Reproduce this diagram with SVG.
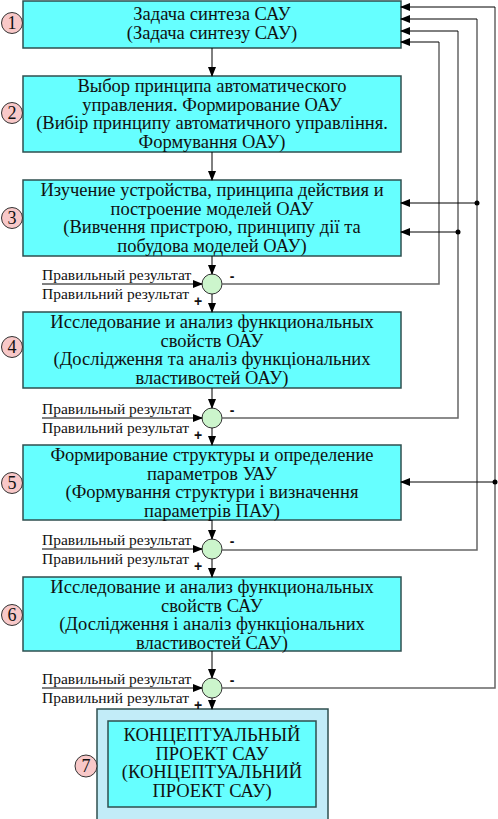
<svg xmlns="http://www.w3.org/2000/svg" width="498" height="819" viewBox="0 0 498 819">
<defs>
<marker id="ah" markerWidth="10" markerHeight="8" refX="9" refY="4" orient="auto" markerUnits="userSpaceOnUse">
<path d="M0,0 L10,4 L0,8 Z" fill="#000"/>
</marker>
<style>
.box{fill:#66ffff;stroke:#2f4f4f;stroke-width:1.5}
.t{font-family:'Liberation Serif','DejaVu Serif',serif;font-size:18.5px;fill:#111;text-anchor:middle}
.lbl{font-family:'Liberation Serif','DejaVu Serif',serif;font-size:15.5px;fill:#111}
.num{fill:#f8c8c8;stroke:#333;stroke-width:1}
.nt{font-family:'Liberation Serif','DejaVu Serif',serif;font-size:18px;fill:#111;text-anchor:middle}
.sum{fill:#ccf5cc;stroke:#333;stroke-width:1}
.ln{fill:none;stroke:#000;stroke-width:1}
.fb{fill:none;stroke:#666;stroke-width:1.5}
.sg{font-family:'Liberation Sans',Arial,sans-serif;font-size:14px;font-weight:bold;fill:#111;text-anchor:middle}
</style>
</defs>

<g id="node1">
<rect class="box" x="23" y="1" width="378" height="47"/>
<text class="t" x="212" y="20">Задача синтеза САУ</text>
<text class="t" x="212" y="39">(Задача синтезу САУ)</text>
<circle class="num" cx="12" cy="23" r="10.5"/><text class="nt" x="12" y="29">1</text>
</g>

<g id="node2">
<rect class="box" x="23" y="76" width="378" height="76"/>
<text class="t" x="212" y="92">Выбор принципа автоматического</text>
<text class="t" x="212" y="110.5">управления. Формирование ОАУ</text>
<text class="t" x="212" y="129">(Вибір принципу автоматичного управління.</text>
<text class="t" x="212" y="147.5">Формування ОАУ)</text>
<circle class="num" cx="12" cy="113" r="10.5"/><text class="nt" x="12" y="119">2</text>
</g>

<g id="node3">
<rect class="box" x="23" y="180" width="378" height="76"/>
<text class="t" x="212" y="196">Изучение устройства, принципа действия и</text>
<text class="t" x="212" y="214.5">построение моделей ОАУ</text>
<text class="t" x="212" y="233">(Вивчення пристрою, принципу дії та</text>
<text class="t" x="212" y="251.5">побудова моделей ОАУ)</text>
<circle class="num" cx="12" cy="218" r="10.5"/><text class="nt" x="12" y="224">3</text>
</g>

<g id="node4">
<rect class="box" x="23" y="312" width="378" height="76"/>
<text class="t" x="212" y="328">Исследование и анализ функциональных</text>
<text class="t" x="212" y="346.5">свойств ОАУ</text>
<text class="t" x="212" y="365">(Дослідження та аналіз функціональних</text>
<text class="t" x="212" y="383.5">властивостей ОАУ)</text>
<circle class="num" cx="12" cy="347" r="10.5"/><text class="nt" x="12" y="353">4</text>
</g>

<g id="node5">
<rect class="box" x="23" y="445" width="378" height="75"/>
<text class="t" x="212" y="461">Формирование структуры и определение</text>
<text class="t" x="212" y="479.5">параметров УАУ</text>
<text class="t" x="212" y="498">(Формування структури і визначення</text>
<text class="t" x="212" y="516.5">параметрів ПАУ)</text>
<circle class="num" cx="12" cy="483" r="10.5"/><text class="nt" x="12" y="489">5</text>
</g>

<g id="node6">
<rect class="box" x="23" y="577" width="378" height="74"/>
<text class="t" x="212" y="593">Исследование и анализ функциональных</text>
<text class="t" x="212" y="611.5">свойств САУ</text>
<text class="t" x="212" y="630">(Дослідження і аналіз функціональних</text>
<text class="t" x="212" y="648.5">властивостей САУ)</text>
<circle class="num" cx="12" cy="615" r="10.5"/><text class="nt" x="12" y="621">6</text>
</g>

<g id="node7">
<rect x="97" y="709" width="231" height="115" fill="#c2ecf8" stroke="#2f4f4f" stroke-width="1.5"/>
<rect class="box" x="108" y="721" width="208" height="86"/>
<text class="t" x="212" y="741">КОНЦЕПТУАЛЬНЫЙ</text>
<text class="t" x="212" y="759.5">ПРОЕКТ САУ</text>
<text class="t" x="212" y="778">(КОНЦЕПТУАЛЬНИЙ</text>
<text class="t" x="212" y="796.5">ПРОЕКТ САУ)</text>
<circle class="num" cx="86" cy="766" r="11"/><text class="nt" x="86" y="772">7</text>
</g>

<g id="sum1">
<circle class="sum" cx="212" cy="284" r="10"/>
<text class="lbl" x="42" y="280">Правильный результат</text>
<text class="lbl" x="42" y="299">Правильний результат</text>
<text class="sg" x="198" y="306">+</text>
<text class="sg" x="232" y="281">-</text>
</g>
<g id="sum2">
<circle class="sum" cx="212" cy="418" r="10"/>
<text class="lbl" x="42" y="414">Правильный результат</text>
<text class="lbl" x="42" y="433">Правильний результат</text>
<text class="sg" x="198" y="440">+</text>
<text class="sg" x="232" y="415">-</text>
</g>
<g id="sum3">
<circle class="sum" cx="212" cy="549" r="10"/>
<text class="lbl" x="42" y="545">Правильный результат</text>
<text class="lbl" x="42" y="564">Правильний результат</text>
<text class="sg" x="198" y="571">+</text>
<text class="sg" x="232" y="546">-</text>
</g>
<g id="sum4">
<circle class="sum" cx="212" cy="688" r="10"/>
<text class="lbl" x="42" y="684">Правильный результат</text>
<text class="lbl" x="42" y="703">Правильний результат</text>
<text class="sg" x="198" y="710">+</text>
<text class="sg" x="232" y="685">-</text>
</g>

<g id="connectors">
<line class="ln" x1="212" y1="48" x2="212" y2="76" marker-end="url(#ah)"/>
<line class="ln" x1="212" y1="152" x2="212" y2="180" marker-end="url(#ah)"/>
<line class="ln" x1="212" y1="256" x2="212" y2="274" marker-end="url(#ah)"/>
<line class="ln" x1="212" y1="294" x2="212" y2="312" marker-end="url(#ah)"/>
<line class="ln" x1="212" y1="388" x2="212" y2="408" marker-end="url(#ah)"/>
<line class="ln" x1="212" y1="428" x2="212" y2="445" marker-end="url(#ah)"/>
<line class="ln" x1="212" y1="520" x2="212" y2="539" marker-end="url(#ah)"/>
<line class="ln" x1="212" y1="559" x2="212" y2="577" marker-end="url(#ah)"/>
<line class="ln" x1="212" y1="651" x2="212" y2="678" marker-end="url(#ah)"/>
<line class="ln" x1="212" y1="698" x2="212" y2="709" marker-end="url(#ah)"/>
<line class="ln" x1="42" y1="284" x2="202" y2="284" marker-end="url(#ah)"/>
<line class="ln" x1="42" y1="418" x2="202" y2="418" marker-end="url(#ah)"/>
<line class="ln" x1="42" y1="549" x2="202" y2="549" marker-end="url(#ah)"/>
<line class="ln" x1="42" y1="688" x2="202" y2="688" marker-end="url(#ah)"/>
<polyline class="fb" points="222,284 439,284 439,42"/>
<polyline class="fb" points="222,418 458,418 458,31"/>
<polyline class="fb" points="222,550 477,550 477,19"/>
<polyline class="fb" points="222,688 495,688 495,7"/>
<line class="ln" x1="439" y1="42" x2="401" y2="42" marker-end="url(#ah)"/>
<line class="ln" x1="458" y1="31" x2="401" y2="31" marker-end="url(#ah)"/>
<line class="ln" x1="477" y1="19" x2="401" y2="19" marker-end="url(#ah)"/>
<line class="ln" x1="495" y1="7" x2="401" y2="7" marker-end="url(#ah)"/>
<line class="ln" x1="477" y1="203" x2="401" y2="203" marker-end="url(#ah)"/>
<line class="ln" x1="458" y1="232" x2="401" y2="232" marker-end="url(#ah)"/>
<line class="ln" x1="495" y1="482" x2="401" y2="482" marker-end="url(#ah)"/>
<circle cx="477" cy="203" r="2.5" fill="#000"/>
<circle cx="458" cy="232" r="2.5" fill="#000"/>
<circle cx="495" cy="482" r="2.5" fill="#000"/>
</g>
</svg>
